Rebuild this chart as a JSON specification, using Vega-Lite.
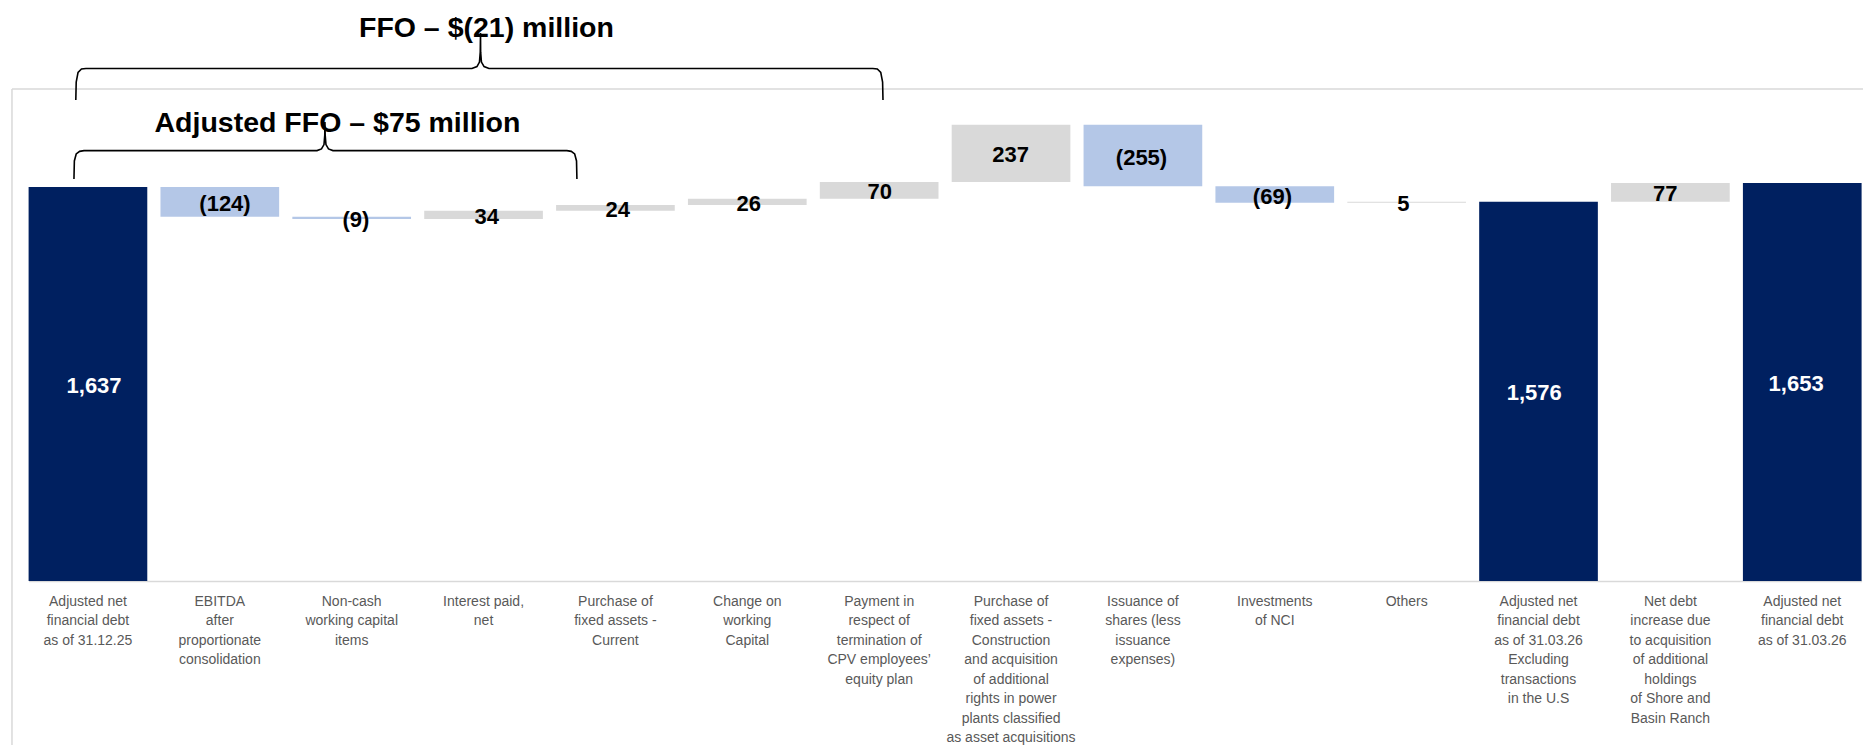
{
  "$schema": "https://vega.github.io/schema/vega-lite/v6.json",
  "width": 1833,
  "height": 492,
  "autosize": {"type": "none"},
  "padding": {"left": 28.6, "top": 89, "right": 1.4, "bottom": 164},
  "background": "white",
  "config": {"view": {"stroke": null}, "font": "Liberation Sans"},
  "datasets": {
    "bars": [
      {"category": "Adjusted net|financial debt|as of 31.12.25", "start": 0, "end": 1637, "type": "total", "label": "1,637"},
      {"category": "EBITDA|after|proportionate|consolidation", "start": 1637, "end": 1513, "type": "neg", "label": "(124)"},
      {"category": "Non-cash|working capital|items", "start": 1513, "end": 1504, "type": "neg", "label": "(9)"},
      {"category": "Interest paid,|net", "start": 1504, "end": 1538, "type": "pos", "label": "34"},
      {"category": "Purchase of|fixed assets -|Current", "start": 1538, "end": 1562, "type": "pos", "label": "24"},
      {"category": "Change on|working|Capital", "start": 1562, "end": 1588, "type": "pos", "label": "26"},
      {"category": "Payment in|respect of|termination of|CPV employees’|equity  plan", "start": 1588, "end": 1658, "type": "pos", "label": "70"},
      {"category": "Purchase of|fixed assets -|Construction|and acquisition|of additional|rights in power|plants classified|as asset acquisitions", "start": 1658, "end": 1895, "type": "pos", "label": "237"},
      {"category": "Issuance of|shares (less|issuance|expenses)", "start": 1895, "end": 1640, "type": "neg", "label": "(255)"},
      {"category": "Investments|of NCI", "start": 1640, "end": 1571, "type": "neg", "label": "(69)"},
      {"category": "Others", "start": 1571, "end": 1576, "type": "pos", "label": "5"},
      {"category": "Adjusted net|financial debt|as of 31.03.26|Excluding|transactions|in the U.S", "start": 0, "end": 1576, "type": "total", "label": "1,576"},
      {"category": "Net debt|increase due|to acquisition|of additional|holdings|of Shore and|Basin Ranch", "start": 1576, "end": 1653, "type": "pos", "label": "77"},
      {"category": "Adjusted net|financial debt|as of 31.03.26", "start": 0, "end": 1653, "type": "total", "label": "1,653"}
    ],
    "braces": [
      {"brace": "FFO", "o": 1, "bx": 0.358, "by": 1998},
      {"brace": "FFO", "o": 2, "bx": 0.361, "by": 2073},
      {"brace": "FFO", "o": 3, "bx": 0.375, "by": 2113},
      {"brace": "FFO", "o": 4, "bx": 0.401, "by": 2127},
      {"brace": "FFO", "o": 5, "bx": 0.435, "by": 2129},
      {"brace": "FFO", "o": 6, "bx": 3.362, "by": 2129},
      {"brace": "FFO", "o": 7, "bx": 3.400, "by": 2137},
      {"brace": "FFO", "o": 8, "bx": 3.419, "by": 2156},
      {"brace": "FFO", "o": 9, "bx": 3.425, "by": 2197},
      {"brace": "FFO", "o": 10, "bx": 3.427, "by": 2277},
      {"brace": "FFO", "o": 11, "bx": 3.428, "by": 2197},
      {"brace": "FFO", "o": 12, "bx": 3.434, "by": 2156},
      {"brace": "FFO", "o": 13, "bx": 3.454, "by": 2137},
      {"brace": "FFO", "o": 14, "bx": 3.491, "by": 2129},
      {"brace": "FFO", "o": 15, "bx": 6.402, "by": 2129},
      {"brace": "FFO", "o": 16, "bx": 6.436, "by": 2127},
      {"brace": "FFO", "o": 17, "bx": 6.462, "by": 2113},
      {"brace": "FFO", "o": 18, "bx": 6.476, "by": 2073},
      {"brace": "FFO", "o": 19, "bx": 6.479, "by": 1998},
      {"brace": "AFFO", "o": 1, "bx": 0.344, "by": 1670},
      {"brace": "AFFO", "o": 2, "bx": 0.347, "by": 1745},
      {"brace": "AFFO", "o": 3, "bx": 0.361, "by": 1774},
      {"brace": "AFFO", "o": 4, "bx": 0.387, "by": 1785},
      {"brace": "AFFO", "o": 5, "bx": 0.420, "by": 1788},
      {"brace": "AFFO", "o": 6, "bx": 2.187, "by": 1788},
      {"brace": "AFFO", "o": 7, "bx": 2.221, "by": 1795},
      {"brace": "AFFO", "o": 8, "bx": 2.240, "by": 1813},
      {"brace": "AFFO", "o": 9, "bx": 2.246, "by": 1853},
      {"brace": "AFFO", "o": 10, "bx": 2.247, "by": 1907},
      {"brace": "AFFO", "o": 11, "bx": 2.249, "by": 1853},
      {"brace": "AFFO", "o": 12, "bx": 2.255, "by": 1813},
      {"brace": "AFFO", "o": 13, "bx": 2.274, "by": 1795},
      {"brace": "AFFO", "o": 14, "bx": 2.308, "by": 1788},
      {"brace": "AFFO", "o": 15, "bx": 4.082, "by": 1788},
      {"brace": "AFFO", "o": 16, "bx": 4.115, "by": 1785},
      {"brace": "AFFO", "o": 17, "bx": 4.141, "by": 1774},
      {"brace": "AFFO", "o": 18, "bx": 4.155, "by": 1745},
      {"brace": "AFFO", "o": 19, "bx": 4.158, "by": 1670}
    ],
    "titles": [
      {"text": "FFO – $(21) million", "tx": 3.472, "ty": 2261},
      {"text": "Adjusted FFO – $75 million", "tx": 2.342, "ty": 1864}
    ],
    "frame": [
      {"fx": -0.126, "fx2": 14.2, "fy": 2044, "fy2": 2044},
      {"fx": -0.126, "fx2": -0.126, "fy": 2044, "fy2": -700}
    ]
  },
  "layer": [
    {
      "data": {"name": "frame"},
      "mark": {"type": "rule", "color": "#d9d9d9", "strokeWidth": 1.5},
      "encoding": {
        "x": {"field": "fx", "type": "quantitative", "scale": {"domain": [0, 13.9], "nice": false, "zero": false}, "axis": null},
        "x2": {"field": "fx2"},
        "y": {"field": "fy", "type": "quantitative", "scale": {"domain": [0, 2044], "nice": false}, "axis": null},
        "y2": {"field": "fy2"}
      }
    },
    {
      "data": {"name": "bars"},
      "mark": {"type": "bar"},
      "encoding": {
        "x": {
          "field": "category", "type": "nominal", "sort": null,
          "scale": {"paddingInner": 0.1, "paddingOuter": 0},
          "axis": {
            "title": null, "labelExpr": "split(datum.label, '|')", "labelAngle": 0,
            "labelFont": "Liberation Sans", "labelFontSize": 14, "labelColor": "#595959",
            "labelLineHeight": 19.5, "labelPadding": 13, "labelLimit": 0, "labelOverlap": false,
            "labelBaseline": "top", "ticks": false, "domainColor": "#d9d9d9", "domainWidth": 1.5
          }
        },
        "y": {"field": "start", "type": "quantitative", "scale": {"domain": [0, 2044], "nice": false}, "axis": null},
        "y2": {"field": "end"},
        "color": {
          "field": "type", "type": "nominal",
          "scale": {"domain": ["total", "neg", "pos"], "range": ["#002060", "#B4C7E7", "#D9D9D9"]},
          "legend": null
        }
      }
    },
    {
      "data": {"name": "bars"},
      "transform": [{"fold": ["start", "end"], "as": ["k", "v"]}],
      "mark": {"type": "text", "font": "Liberation Sans", "fontWeight": "bold", "fontSize": 22, "baseline": "middle", "dy": 2},
      "encoding": {
        "x": {"field": "category", "type": "nominal", "sort": null, "scale": {"paddingInner": 0.1, "paddingOuter": 0}, "axis": null},
        "y": {"field": "v", "aggregate": "mean", "type": "quantitative", "scale": {"domain": [0, 2044], "nice": false}, "axis": null},
        "text": {"field": "label"},
        "fill": {
          "field": "type", "type": "nominal",
          "scale": {"domain": ["total", "neg", "pos"], "range": ["#ffffff", "#000000", "#000000"]},
          "legend": null
        }
      }
    },
    {
      "data": {"name": "braces"},
      "mark": {"type": "line", "color": "#000000", "strokeWidth": 1.6, "interpolate": "linear"},
      "encoding": {
        "x": {"field": "bx", "type": "quantitative", "scale": {"domain": [0, 13.9], "nice": false, "zero": false}, "axis": null},
        "y": {"field": "by", "type": "quantitative", "scale": {"domain": [0, 2044], "nice": false}, "axis": null},
        "detail": {"field": "brace", "type": "nominal"},
        "order": {"field": "o", "type": "quantitative"}
      }
    },
    {
      "data": {"name": "titles"},
      "mark": {"type": "text", "font": "Liberation Sans", "fontWeight": "bold", "fontSize": 28.5, "baseline": "alphabetic", "align": "center", "color": "#000000"},
      "encoding": {
        "x": {"field": "tx", "type": "quantitative", "scale": {"domain": [0, 13.9], "nice": false, "zero": false}, "axis": null},
        "y": {"field": "ty", "type": "quantitative", "scale": {"domain": [0, 2044], "nice": false}, "axis": null},
        "text": {"field": "text"}
      }
    }
  ],
  "resolve": {"scale": {"x": "independent", "color": "independent", "fill": "independent"}}
}
